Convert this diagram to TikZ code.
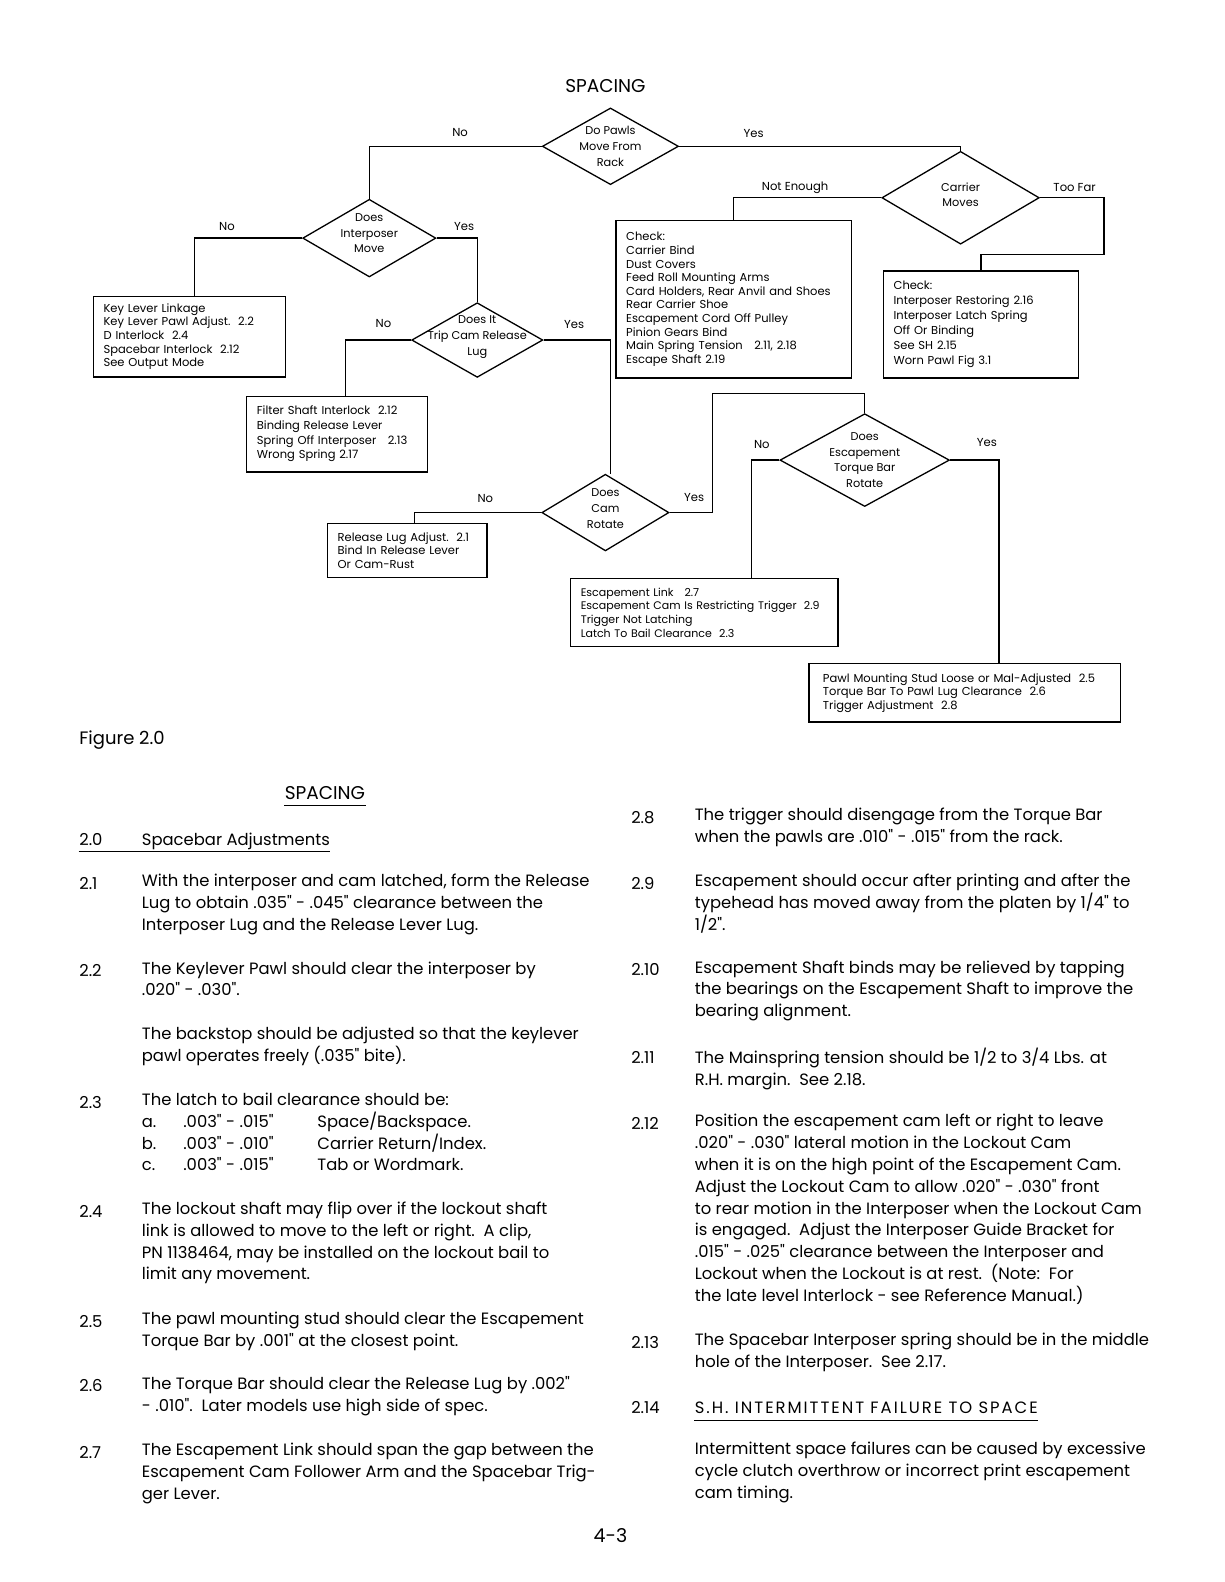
\documentclass[tikz,border=0pt]{standalone}
\usepackage{fontspec}
\setmainfont{Poppins}[Ligatures=TeXOff]
\usetikzlibrary{shapes.geometric,calc}
\newlength{\pix}
\setlength{\pix}{1.009pt}
\newcommand{\flowfont}{\fontsize{11.5}{13.6}\selectfont}
\newcommand{\bodyfont}{\fontsize{16.4}{21.9}\selectfont}
\tikzset{
    qdiam/.style={draw,diamond,inner sep=0pt},
    qtext/.style={align=center,font=\fontsize{11.3}{15.6}\selectfont},
    fixbox/.style={draw,rectangle,anchor=north west,align=left,inner xsep=10\pix,font=\flowfont},
    ans/.style={font=\fontsize{11.6}{14}\selectfont},
    para/.style={anchor=north west,yshift=13.8pt,align=left,inner sep=0pt,font=\bodyfont,
        execute at begin node=\strut},
}
\begin{document}
\begin{tikzpicture}[x=\pix,y=-\pix,line width=1.3pt]
        \useasboundingbox (0pt,0pt) rectangle (1224pt,-1582pt);
        \node (title) at (600,85) [font=\fontsize{18.5}{22}\selectfont] {SPACING};
        % questions
        \node (pawls) at (605,145) [qdiam,minimum width=135\pix,minimum height=76\pix,
            label={[qtext]center:Do Pawls\\Move From\\Rack}] {};
        \node (carrier) at (952,196) [qdiam,minimum width=156\pix,minimum height=92\pix,
            label={[qtext,yshift=3pt]center:Carrier\\Moves}] {};
        \node (interp) at (366,236) [qdiam,minimum width=132\pix,minimum height=77\pix,
            label={[qtext,yshift=5pt]center:Does\\Interposer\\Move}] {};
        \node (trip) at (473,337) [qdiam,minimum width=130\pix,minimum height=74\pix,
            label={[qtext,yshift=3pt]center:Does It\\Trip Cam Release\\Lug}] {};
        \node (cam) at (600,508) [qdiam,minimum width=126\pix,minimum height=76\pix,
            label={[qtext,yshift=4pt]center:Does\\Cam\\Rotate}] {};
        \node (esc) at (857,456) [qdiam,minimum width=168\pix,minimum height=92\pix,
            label={[qtext]center:Does\\Escapement\\Torque Bar\\Rotate}] {};
        % fixes
        \node (checka) at (610,218) [fixbox,text width=213\pix,minimum height=156\pix]
            {Check:\\Carrier Bind\\Dust Covers\\Feed Roll Mounting Arms\\Card Holders, Rear Anvil and Shoes\\Rear Carrier Shoe\\Escapement Cord Off Pulley\\Pinion Gears Bind\\Main Spring Tension\quad 2.11, 2.18\\Escape Shaft 2.19};
        \node (checkb) at (875,268) [fixbox,text width=173\pix,minimum height=106\pix,
            font=\fontsize{11.5}{15.1}\selectfont]
            {Check:\\Interposer Restoring 2.16\\Interposer Latch Spring\\Off Or Binding\\See SH 2.15\\Worn Pawl Fig 3.1};
        \node (keybox) at (92,293) [fixbox,text width=170\pix,minimum height=80\pix]
            {Key Lever Linkage\\Key Lever Pawl Adjust.\ \ 2.2\\D Interlock\ \ 2.4\\Spacebar Interlock\ \ 2.12\\See Output Mode};
        \node (filter) at (244,392) [fixbox,text width=159\pix,minimum height=75\pix,
            font=\fontsize{11.5}{14.6}\selectfont]
            {Filter Shaft Interlock\ \ 2.12\\Binding Release Lever\\Spring Off Interposer\ \ \ 2.13\\Wrong Spring 2.17};
        \node (release) at (324,518) [fixbox,text width=138\pix,minimum height=54\pix]
            {Release Lug Adjust.\ \ 2.1\\Bind In Release Lever\\Or Cam-Rust};
        \node (esclink) at (565,573) [fixbox,text width=245\pix,minimum height=67\pix,
            font=\fontsize{11}{13.6}\selectfont]
            {Escapement Link\ \ \ 2.7\\Escapement Cam Is Restricting Trigger\ \ 2.9\\Trigger Not Latching\\Latch To Bail Clearance\ \ 2.3};
        \node (pawlbox) at (801,657) [fixbox,text width=281\pix,minimum height=58\pix,inner xsep=14\pix]
            {Pawl Mounting Stud Loose or Mal-Adjusted\ \ 2.5\\Torque Bar To Pawl Lug Clearance\ \ 2.6\\Trigger Adjustment\ \ 2.8};
        % connectors
        \coordinate (toofar) at (1094,252);
        \coordinate (camyes) at (706,390);
        \draw (pawls.west) -| (interp.north);
        \draw (pawls.east) -| (carrier.north);
        \draw (carrier.west) -| (checka.north);
        \draw (carrier.east) -| (toofar) -| (checkb.north);
        \draw (interp.west) -| ($(keybox.north)+(5,0)$);
        \draw (interp.east) -| (trip.north);
        \draw (trip.west) -| ($(filter.north)+(8,0)$);
        \draw (trip.east) -| ($(cam.north)+(5,0)$);
        \draw (cam.west) -| ($(release.north)+(7,0)$);
        \draw (cam.east) -| (camyes) -| (esc.north);
        \draw (esc.west) -| ($(esclink.north west)+(180,0)$);
        \draw (esc.east) -| ($(pawlbox.north west)+(189,0)$);
        \foreach \t/\x/\y in {No/456/131,Yes/747/132,Not Enough/788/186,Too Far/1065/186,
            No/225/224,Yes/460/224,No/380/321,Yes/569/322,No/481/494,Yes/688/493,
            No/755/441,Yes/978/439}{
            \node[ans] at (\x,\y) {\t};
        }
        \node (fig) at (78,738) [anchor=base west,inner sep=0pt,font=\fontsize{18}{21}\selectfont] {Figure 2.0};
        % text
        \node (sub) at (322,792) [anchor=base,inner sep=0pt,font=\fontsize{18.5}{22}\selectfont] {SPACING};
        \draw[line width=1pt] ($(sub.base west)+(0,6)$) -- ($(sub.base east)+(0,6)$);
        \foreach[count=\i] \n/\y in {2.0/836,2.1/879,2.2/966,2.3/1096,2.4/1204,2.5/1313,2.6/1377,2.7/1443}{
            \node (nl\i) at (78,\y) [para] {\n};
        }
        \foreach[count=\i] \n/\y in {2.8/814,2.9/879,2.10/965,2.11/1052,2.12/1117,2.13/1334,2.14/1399}{
            \node (nr\i) at (625,\y) [para] {\n};
        }
        \node (p20) at (140,836) [para] {Spacebar Adjustments};
        \draw[line width=1pt] ($(nl1.south west)+(0,-1)$) -- ($(p20.south east)+(0,-1)$);
        \node (p21) at (140,879) [para] {With the interposer and cam latched, form the Release\\Lug to obtain .035" - .045" clearance between the\\Interposer Lug and the Release Lever Lug.};
        \node (p22) at (140,966) [para] {The Keylever Pawl should clear the interposer by\\.020" - .030".};
        \node (p22b) at (140,1031) [para] {The backstop should be adjusted so that the keylever\\pawl operates freely (.035" bite).};
        \node (p23) at (140,1096) [para] {The latch to bail clearance should be:\\
            \makebox[41\pix][l]{a.}\makebox[133\pix][l]{.003" - .015"}Space/Backspace.\\
            \makebox[41\pix][l]{b.}\makebox[133\pix][l]{.003" - .010"}Carrier Return/Index.\\
            \makebox[41\pix][l]{c.}\makebox[133\pix][l]{.003" - .015"}Tab or Wordmark.};
        \node (p24) at (140,1204) [para] {The lockout shaft may flip over if the lockout shaft\\link is allowed to move to the left or right.\ \ A clip,\\PN 1138464, may be installed on the lockout bail to\\limit any movement.};
        \node (p25) at (140,1313) [para] {The pawl mounting stud should clear the Escapement\\Torque Bar by .001" at the closest point.};
        \node (p26) at (140,1377) [para] {The Torque Bar should clear the Release Lug by .002"\\- .010".\ \ Later models use high side of spec.};
        \node (p27) at (140,1443) [para] {The Escapement Link should span the gap between the\\Escapement Cam Follower Arm and the Spacebar Trig-\\ger Lever.};
        \node (p28) at (688,814) [para] {The trigger should disengage from the Torque Bar\\when the pawls are .010" - .015" from the rack.};
        \node (p29) at (688,879) [para] {Escapement should occur after printing and after the\\typehead has moved away from the platen by 1/4" to\\1/2".};
        \node (p210) at (688,965) [para] {Escapement Shaft binds may be relieved by tapping\\the bearings on the Escapement Shaft to improve the\\bearing alignment.};
        \node (p211) at (688,1052) [para] {The Mainspring tension should be 1/2 to 3/4 Lbs. at\\R.H. margin.\ \ See 2.18.};
        \node (p212) at (688,1117) [para] {Position the escapement cam left or right to leave\\.020" - .030" lateral motion in the Lockout Cam\\when it is on the high point of the Escapement Cam.\\Adjust the Lockout Cam to allow .020" - .030" front\\to rear motion in the Interposer when the Lockout Cam\\is engaged.\ \ Adjust the Interposer Guide Bracket for\\.015" - .025" clearance between the Interposer and\\Lockout when the Lockout is at rest.\ \ (Note:\ \ For\\the late level Interlock - see Reference Manual.)};
        \node (p213) at (688,1334) [para] {The Spacebar Interposer spring should be in the middle\\hole of the Interposer.\ \ See 2.17.};
        \node (p214) at (688,1399) [para] {\addfontfeature{LetterSpace=12}S.H. INTERMITTENT FAILURE TO SPACE};
        \draw[line width=1pt] ($(p214.south west)+(0,-1)$) -- ($(p214.south east)+(0,-1)$);
        \node (p214b) at (688,1442) [para] {Intermittent space failures can be caused by excessive\\cycle clutch overthrow or incorrect print escapement\\cam timing.};
        \node (page) at (605,1522) [font=\fontsize{19}{23}\selectfont] {4-3};
\end{tikzpicture}
\end{document}
